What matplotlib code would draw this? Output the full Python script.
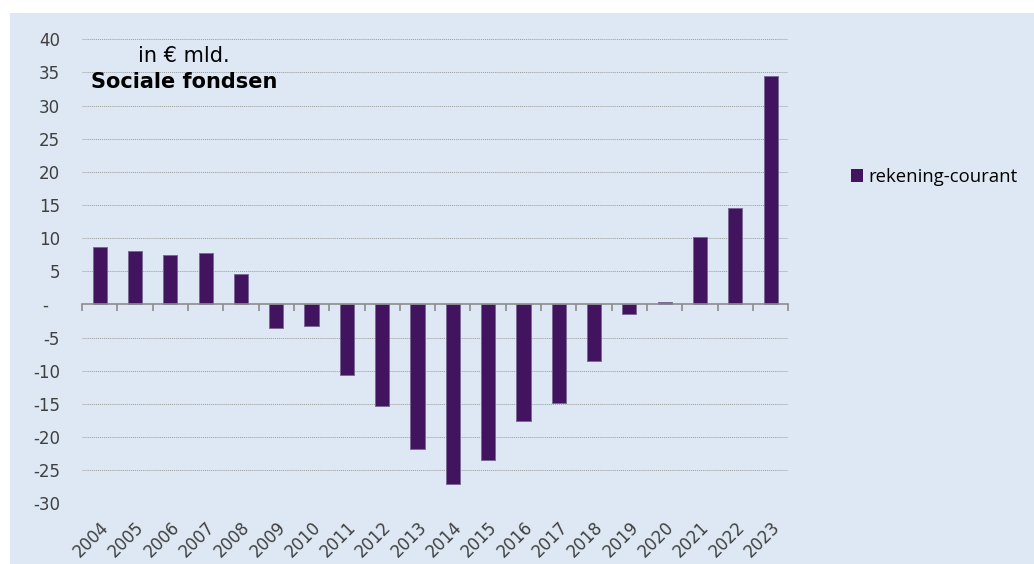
import matplotlib
matplotlib.use("Agg")
import matplotlib.pyplot as plt
from matplotlib.patches import Rectangle
import numpy as np

# ============================================================
# Data
# ============================================================

years = [str(y) for y in range(2004, 2024)]
rekening_courant = [8.7, 8.0, 7.5, 7.75, 4.6, -3.5, -3.3, -10.6, -15.35, -21.8,
                    -27.1, -23.4, -17.6, -14.85, -8.5, -1.45, 0.4, 10.1, 14.5, 34.4]

y_ticks = [-30, -25, -20, -15, -10, -5, 0, 5, 10, 15, 20, 25, 30, 35, 40]
y_ticklabels = ["-30", "-25", "-20", "-15", "-10", "-5", "-  ", "5", "10", "15",
                "20", "25", "30", "35", "40"]

# ============================================================
# Style
# ============================================================

BAR_COLOR = "#42145f"
BAR_EDGE = "#7b6a93"
PANEL_COLOR = "#dde8f4"
GRID_COLOR = "#9a9a9a"
AXIS_COLOR = "#8c8c8c"
TEXT_COLOR = "#404040"

fig = plt.figure(figsize=(10.34, 5.64), dpi=100, facecolor="white")

# light blue panel behind the chart
fig.patches.append(Rectangle((10 / 1034, 0), 1.0, 1 - 13 / 564,
                             transform=fig.transFigure, facecolor=PANEL_COLOR,
                             edgecolor="none", zorder=-10))

ax = fig.add_axes([82 / 1034, 1 - 503.3 / 564, (788.3 - 82) / 1034, (503.3 - 39.3) / 564])
ax.set_facecolor("none")

x = np.arange(len(years))
ax.bar(x, rekening_courant, width=0.4, color=BAR_COLOR, edgecolor=BAR_EDGE,
       linewidth=0.7, label="rekening-courant", zorder=3)

ax.set_xlim(-0.5, len(years) - 0.5)
ax.set_ylim(-30, 40)

# horizontal dotted gridlines
ax.set_yticks(y_ticks)
ax.set_yticklabels(y_ticklabels)
for t in y_ticks:
    if t != 0:
        ax.axhline(t, color=GRID_COLOR, linestyle=(0, (1, 1)), linewidth=0.7, zorder=1)
ax.tick_params(axis="y", length=0, pad=16, labelsize=12, labelcolor=TEXT_COLOR)

for side in ["left", "right", "top"]:
    ax.spines[side].set_visible(False)

# category axis at zero with boundary tick marks
ax.spines["bottom"].set_position(("data", 0))
ax.spines["bottom"].set_color(AXIS_COLOR)
ax.spines["bottom"].set_linewidth(1.2)
ax.spines["bottom"].set_zorder(4)
ax.set_xticks(np.arange(-0.5, len(years)), labels=[])
ax.tick_params(axis="x", direction="out", length=5, width=1.2, color=AXIS_COLOR)

# year labels at the bottom of the plot area
sec = ax.secondary_xaxis("bottom")
sec.spines["bottom"].set_visible(False)
sec.set_xticks(x)
sec.set_xticklabels(years, rotation=45, ha="right", va="top",
                    rotation_mode="anchor", fontsize=12, color=TEXT_COLOR)
sec.tick_params(axis="x", length=0, pad=11)

# titles inside the plot
ax.text(138 / 1034, 1 - 55.7 / 564, "in € mld.", transform=fig.transFigure,
        fontsize=15, color="black", ha="left", va="center")
ax.text(91 / 1034, 1 - 81.7 / 564, "Sociale fondsen", transform=fig.transFigure,
        fontsize=15, fontweight="bold", color="black", ha="left", va="center")

leg = ax.legend(loc="center left", bbox_to_anchor=(834 / 1034, 1 - 177 / 564),
                bbox_transform=fig.transFigure, frameon=False,
                handlelength=0.68, handleheight=0.68, handletextpad=0.3,
                prop={"family": "Open Sans", "size": 13.3})
for h in leg.legend_handles:
    h.set_edgecolor("none")

fig.savefig("out.png", dpi=100, facecolor="white")
